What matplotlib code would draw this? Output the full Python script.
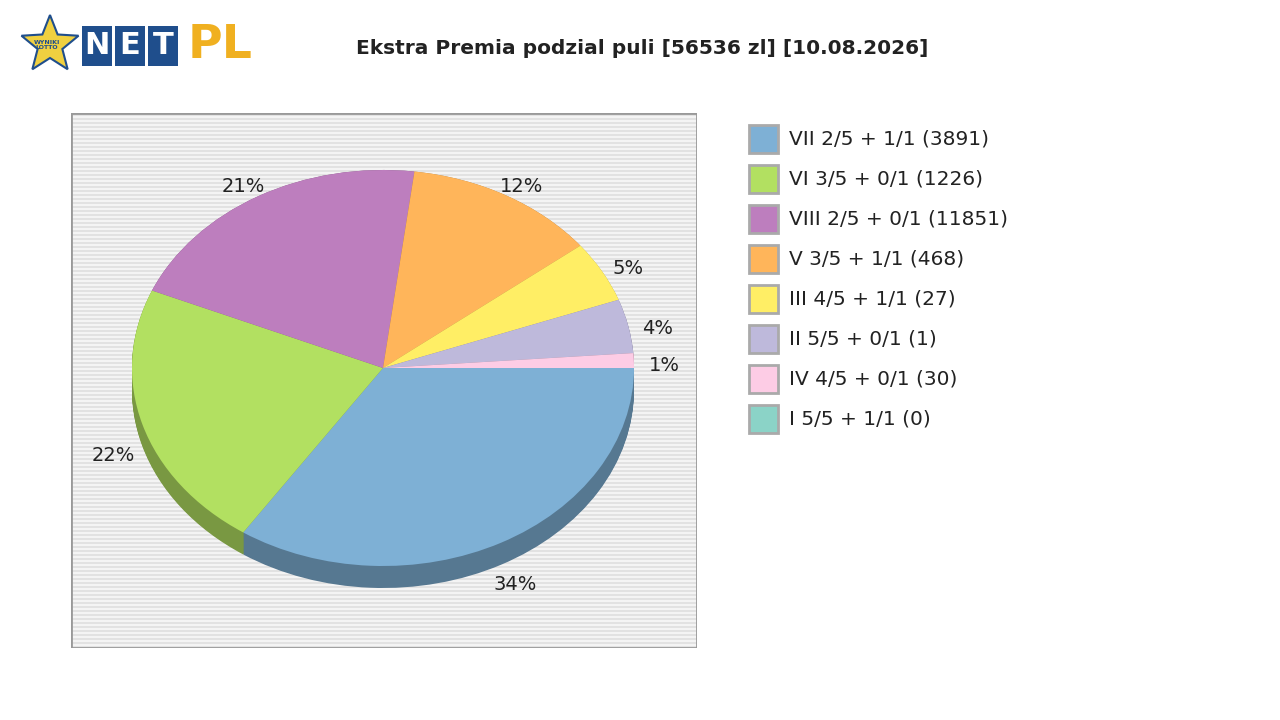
import numpy as np
import matplotlib
matplotlib.use("Agg")
import matplotlib.pyplot as plt
from matplotlib.patches import Rectangle, Wedge, Polygon
from matplotlib.colors import to_rgb

title = "Ekstra Premia podzial puli [56536 zl] [10.08.2026]"
legend_labels = ["VII 2/5 + 1/1 (3891)", "VI 3/5 + 0/1 (1226)", "VIII 2/5 + 0/1 (11851)",
                 "V 3/5 + 1/1 (468)", "III 4/5 + 1/1 (27)", "II 5/5 + 0/1 (1)",
                 "IV 4/5 + 0/1 (30)", "I 5/5 + 1/1 (0)"]
shares = [34.4, 22.0, 20.6, 12.4, 5.0, 4.4, 1.2, 0.0]
colors = ["#7eb0d5", "#b2e061", "#bd7ebe", "#ffb55a", "#ffee65", "#beb9db", "#fdcce5", "#8bd3c7"]

fig = plt.figure(figsize=(12.8, 7.2), dpi=100)
W, H = 1280, 720
def fx(x): return x / W
def fy(y): return 1 - y / H

L, T, R, B = 71, 113, 697, 648
ax = fig.add_axes([fx(L), fy(B), (R - L) / W, (B - T) / H])
cx, cy, rx, ry = 383, 368, 251, 198
ax.set_xlim((L - cx) / rx, (R - cx) / rx)
ax.set_ylim(-(B - cy) / ry, (cy - T) / ry)
ax.set_axis_off()
yl = ax.get_ylim(); xl = ax.get_xlim()
ax.add_patch(Rectangle((xl[0], yl[0]), xl[1] - xl[0], yl[1] - yl[0], color="#f4f4f4", zorder=0))
for yy in np.arange(yl[0], yl[1], 4 / ry):
    ax.add_patch(Rectangle((xl[0], yy), xl[1] - xl[0], 2 / ry, color="#e2e2e2", lw=0, zorder=0))
ax.add_patch(Rectangle((xl[0], yl[0]), xl[1] - xl[0], yl[1] - yl[0], fill=False, ec="#999999", lw=2, zorder=5))

total = sum(shares)
depth = 22 / ry
angles = [0]
for s in shares:
    angles.append(angles[-1] - 360 * s / total)

def dark(c, f=0.68):
    return tuple(v * f for v in to_rgb(c))

for k in np.linspace(depth, 0, 24):
    for i, c in enumerate(colors):
        if shares[i] <= 0: continue
        ax.add_patch(Wedge((0, -k), 1, angles[i + 1], angles[i], color=dark(c), lw=0, zorder=1))
for i, c in enumerate(colors):
    if shares[i] <= 0: continue
    ax.add_patch(Wedge((0, 0), 1, angles[i + 1], angles[i], color=c, lw=0, zorder=2))

for i, s in enumerate(shares):
    if shares[i] <= 0: continue
    mid = np.deg2rad((angles[i] + angles[i + 1]) / 2)
    x = 1.12 * np.cos(mid)
    y = 1.09 * np.sin(mid) - 6 / ry
    if y < 0:
        y -= depth * 0.9
    ax.text(x, y, f"{round(s)}%", ha="center", va="center", fontsize=14, color="#222222", zorder=6)

fig.text(fx(642), fy(48), title, ha="center", va="center", fontsize=14.5, fontweight="bold", color="#222222")

for i, (lab, c) in enumerate(zip(legend_labels, colors)):
    yc = 139 + 40 * i
    fig.patches.append(Rectangle((fx(749), fy(yc + 14)), 29 / W, 28 / H, transform=fig.transFigure,
                                 fc=c, ec="#aaaaaa", lw=2))
    fig.text(fx(789), fy(yc), lab, ha="left", va="center", fontsize=14.5, color="#222222")

star_c = (50, 45)
pts = []
for k in range(10):
    r = 30 if k % 2 == 0 else 13
    a = np.deg2rad(90 + 36 * k)
    pts.append((fx(star_c[0] + r * np.cos(a)), fy(star_c[1] - r * np.sin(a))))
fig.patches.append(Polygon(pts, closed=True, transform=fig.transFigure, fc="#f0d040", ec="#1f4e8c", lw=1.5))
fig.text(fx(47), fy(45), "WYNIKI\nLOTTO", ha="center", va="center", fontsize=4.5, color="#1f4e8c", fontweight="bold")
for j, ch in enumerate("NET"):
    x0 = 82 + j * 33
    fig.patches.append(Rectangle((fx(x0), fy(66)), 30 / W, 40 / H, transform=fig.transFigure, fc="#1f4e8c", ec="none"))
    fig.text(fx(x0 + 15), fy(46), ch, ha="center", va="center", fontsize=22, color="white", fontweight="bold")
fig.text(fx(188), fy(46), "PL", ha="left", va="center", fontsize=34, color="#f0b020", fontweight="bold")

fig.savefig("out.png", dpi=100)
